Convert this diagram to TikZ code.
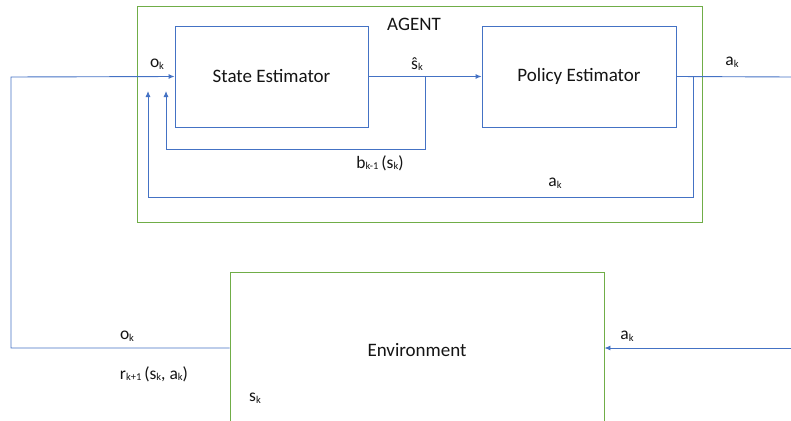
\documentclass[tikz,border=0pt]{standalone}
\usepackage{fontspec}
\setmainfont{Carlito}
\usetikzlibrary{arrows.meta}
\definecolor{lblue}{RGB}{68,114,196}
\definecolor{lgreen}{RGB}{112,173,71}
\definecolor{txt}{RGB}{20,20,20}
\newcommand{\lsub}[1]{\raisebox{-0.2ex}{\fontsize{10.5}{11}\selectfont #1}}
\begin{document}
\begin{tikzpicture}[x=1pt,y=-1pt,
  blk/.style={draw=lblue,line width=0.9pt,rectangle,inner sep=0pt,text=txt,font=\fontsize{19}{22}\selectfont},
  grn/.style={draw=lgreen,line width=0.9pt,rectangle,inner sep=0pt,text=txt,font=\fontsize{19}{22}\selectfont},
  wire/.style={draw=lblue,line width=0.9pt},
  arr/.style={wire,-{Latex[length=6pt,width=5pt]}},
  lbl/.style={text=txt,inner sep=0pt,font=\fontsize{17.5}{20}\selectfont}]
\useasboundingbox (0,0) rectangle (791,420);
\clip (0,0) rectangle (791,420);
% boxes
\node[grn,minimum width=565,minimum height=216] (agent) at (419.5,114) {};
\node[blk,minimum width=193,minimum height=101] (se) at (271.5,76.5) {State Estimator};
\node[blk,minimum width=194,minimum height=101] (pe) at (579,76.5) {Policy Estimator};
\node[grn,minimum width=374,minimum height=168] (env) at (417,356) {};
\node[text=txt,font=\fontsize{19}{22}\selectfont] (envt) at (417,350) {Environment};
% coordinates
\coordinate (j1) at (425,77);
\coordinate (j1b) at (425,149);
\coordinate (f1b) at (166,149);
\coordinate (f1t) at (166,91);
\coordinate (j2) at (693,77);
\coordinate (j2b) at (693,197);
\coordinate (f2b) at (148,197);
\coordinate (f2t) at (148,91);
\coordinate (rt) at (791,77);
\coordinate (rb) at (791,348);
\coordinate (ll) at (11,348);
\coordinate (lt) at (11,77);
% connectors
\draw[arr] (se.east) -- (pe.west);
\draw[wire] (pe.east) -- (rt);
\draw[arr] (j1) -- (j1b) -- (f1b) -- (f1t);
\draw[arr] (j2) -- (j2b) -- (f2b) -- (f2t);
\draw[arr] (env.west |- ll) -- (ll) -- (lt) -- (se.west);
\draw[arr] (rb) -- (env.east |- rb);
% labels
\node[lbl,font=\fontsize{19}{22}\selectfont] (agl) at (414,24) {AGENT};
\node[lbl] (l1) at (157,64) {o\lsub{k}};
\node[lbl] (l2) at (417,64) {\^{s}\lsub{k}};
\node[lbl] (l3) at (732,62) {a\lsub{k}};
\node[lbl] (l4) at (380,163) {b\lsub{k-1}\,(s\lsub{k})};
\node[lbl] (l5) at (555,183) {a\lsub{k}};
\node[lbl] (l6) at (127,336) {o\lsub{k}};
\node[lbl] (l7) at (154,374) {r\lsub{k+1}\,(s\lsub{k}, a\lsub{k})};
\node[lbl] (l8) at (255,398) {s\lsub{k}};
\node[lbl] (l9) at (627,336) {a\lsub{k}};
\end{tikzpicture}
\end{document}
